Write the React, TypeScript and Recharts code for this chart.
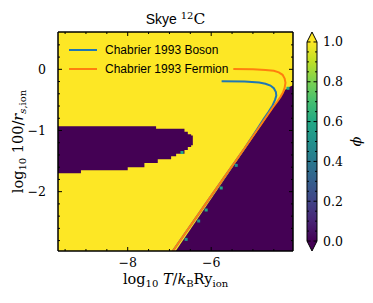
import React from "react";
import { ComposedChart, Area, Line, Scatter, Bar, XAxis, YAxis, Legend, ReferenceArea } from "recharts";

// Skye 12C phase map: phi = 1 everywhere except the two phi = 0 (purple) regions

const xMin = -9.67;
const xMax = -4.04;
const yMin = -2.97;
const yMax = 0.61;

// left purple island, stepped edges
const islandX = [-9.67, -9.12, -8.0, -7.6, -7.32, -7.28, -6.96, -6.84, -6.64, -6.56, -6.48, -6.44];
const islandTop = [-0.93, -0.93, -0.93, -0.93, -0.97, -0.97, -0.97, -0.97, -1.02, -1.06, -1.08, -1.08];
const islandBottom = [-1.7, -1.65, -1.6, -1.53, -1.53, -1.47, -1.42, -1.38, -1.32, -1.27, -1.24, -1.24];

// lower right purple wedge
const wedgeX = [-6.85, -4.22, -4.13, -4.04];
const wedgeTop = [-2.97, -0.33, -0.29, -0.26];

// cells with intermediate phi on the boundaries
const mixedX = [-6.7, -4.16, -5.4, -5.76, -6.12, -6.3, -6.6];
const mixedY = [-1.36, -0.31, -1.57, -1.94, -2.3, -2.48, -2.78];
const mixedPhi = [0.6, 0.6, 0.5, 0.6, 0.6, 0.5, 0.5];

// Chabrier 1993 melting curves
const bosonT = [-5.75, -5.2, -4.85, -4.7, -4.58, -4.5, -4.45, -4.44, -4.47, -4.53, -4.62, -4.74, -4.9, -5.2, -6.0, -6.92];
const bosonR = [-0.195, -0.2, -0.215, -0.235, -0.265, -0.31, -0.37, -0.43, -0.5, -0.59, -0.69, -0.81, -0.98, -1.29, -2.07, -2.97];
const fermionT = [-5.47, -5.0, -4.7, -4.5, -4.38, -4.29, -4.24, -4.22, -4.24, -4.28, -4.34, -4.42, -4.52, -5.2, -6.0, -6.92];
const fermionR = [0.005, 0.0, -0.01, -0.025, -0.05, -0.09, -0.15, -0.22, -0.3, -0.38, -0.45, -0.53, -0.62, -1.29, -2.07, -2.97];

const xMajorTicks = [-8, -6];
const xMinorTicks = [-9.5, -9, -8.5, -7.5, -7, -6.5, -5.5, -5, -4.5];
const yMajorTicks = [-2, -1, 0];
const yMinorTicks = [-2.8, -2.6, -2.4, -2.2, -1.8, -1.6, -1.4, -1.2, -0.8, -0.6, -0.4, -0.2, 0.2, 0.4];
const cbMajorTicks = [0, 0.2, 0.4, 0.6, 0.8, 1.0];
const cbMinorTicks = [0.05, 0.1, 0.15, 0.25, 0.3, 0.35, 0.45, 0.5, 0.55, 0.65, 0.7, 0.75, 0.85, 0.9, 0.95];

const viridis = ["#440154", "#482475", "#414487", "#355f8d", "#2a788e", "#21918c", "#22a884", "#44bf70", "#7ad151", "#bddf26", "#fde725"];
const phiColor = (phi: number) => viridis[Math.round(phi * 10)];

const fieldData = [
  { x: xMin, v: [yMin, yMax] },
  { x: xMax, v: [yMin, yMax] },
];
const islandData = islandX.map((x, i) => ({ x, v: [islandBottom[i], islandTop[i]] }));
const wedgeData = wedgeX.map((x, i) => ({ x, v: [yMin, wedgeTop[i]] }));
const mixedData = mixedX.map((x, i) => ({ x, y: mixedY[i], phi: mixedPhi[i] }));
const bosonData = bosonT.map((x, i) => ({ x, y: bosonR[i] }));
const fermionData = fermionT.map((x, i) => ({ x, y: fermionR[i] }));
const colorbarData = [{ name: "phi", range: [0, 1] }];

const SERIF = "DejaVu Serif";
const minus = (v: number) => (v < 0 ? "\u2212" + Math.abs(v) : String(v));
const xTicks = [...xMinorTicks, ...xMajorTicks].sort((a, b) => a - b);
const yTicks = [...yMinorTicks, ...yMajorTicks].sort((a, b) => a - b);

const BottomTick = (props: any) => {
  const { x, y, payload } = props;
  const major = xMajorTicks.includes(payload.value);
  return (
    <g>
      <line x1={x} x2={x} y1={y} y2={y - (major ? 4 : 2)} stroke="#000" />
      {major && (
        <text x={x} y={y + 16} textAnchor="middle" fontFamily={SERIF} fontSize={12.5} fill="#000">
          {minus(payload.value)}
        </text>
      )}
    </g>
  );
};

const TopTick = (props: any) => {
  const { x, y, payload } = props;
  const major = xMajorTicks.includes(payload.value);
  return <line x1={x} x2={x} y1={y} y2={y + (major ? 4 : 2)} stroke="#000" />;
};

const LeftTick = (props: any) => {
  const { x, y, payload } = props;
  const major = yMajorTicks.includes(payload.value);
  return (
    <g>
      <line x1={x} x2={x + (major ? 4 : 2)} y1={y} y2={y} stroke="#000" />
      {major && (
        <text x={x - 12} y={y + 4.5} textAnchor="end" fontFamily={SERIF} fontSize={12.5} fill="#000">
          {minus(payload.value)}
        </text>
      )}
    </g>
  );
};

const RightTick = (props: any) => {
  const { x, y, payload } = props;
  const major = yMajorTicks.includes(payload.value);
  return <line x1={x} x2={x - (major ? 4 : 2)} y1={y} y2={y} stroke="#000" />;
};

const CbTick = (props: any) => {
  const { x, y, payload } = props;
  return (
    <text x={x + 6} y={y + 4.5} fontFamily={SERIF} fontSize={12.5} fill="#000">
      {payload.value.toFixed(1)}
    </text>
  );
};

const TitleLabel = (props: any) => {
  const { viewBox } = props;
  const cx = viewBox.x + viewBox.width / 2;
  return (
    <text x={cx} y={viewBox.y - 7} textAnchor="middle" fill="#000">
      <tspan fontFamily="Liberation Sans" fontSize={14}>Skye </tspan>
      <tspan fontFamily={SERIF} fontSize={10} dy={-5.5}>12</tspan>
      <tspan fontFamily={SERIF} fontSize={15.5} dy={5.5}>C</tspan>
    </text>
  );
};

const XLabel = (props: any) => {
  const { viewBox } = props;
  const cx = viewBox.x + viewBox.width / 2;
  return (
    <text x={cx} y={viewBox.y + 33} textAnchor="middle" fontFamily={SERIF} fontSize={14.5} fill="#000">
      log
      <tspan fontSize={10} dy={3}>10</tspan>
      <tspan dy={-3}> </tspan>
      <tspan fontStyle="italic">T</tspan>/<tspan fontStyle="italic">k</tspan>
      <tspan fontSize={10} dy={3}>B</tspan>
      <tspan dy={-3}>Ry</tspan>
      <tspan fontSize={10} dy={3}>ion</tspan>
    </text>
  );
};

const YLabel = (props: any) => {
  const { viewBox } = props;
  const x = viewBox.x + 5;
  const cy = viewBox.y + viewBox.height / 2;
  return (
    <text x={x} y={cy} transform={`rotate(-90, ${x}, ${cy})`} textAnchor="middle" fontFamily={SERIF} fontSize={14.5} fill="#000">
      log
      <tspan fontSize={10} dy={3}>10</tspan>
      <tspan dy={-3}> 100/</tspan>
      <tspan fontStyle="italic">r</tspan>
      <tspan fontSize={10} dy={3} fontStyle="italic">s</tspan>
      <tspan fontSize={10}>,ion</tspan>
    </text>
  );
};

const PhiLabel = (props: any) => {
  const { viewBox } = props;
  const x = viewBox.x + 44;
  const cy = viewBox.y + viewBox.height / 2;
  return (
    <text x={x} y={cy} transform={`rotate(-90, ${x}, ${cy})`} textAnchor="middle" fontFamily={SERIF} fontStyle="italic" fontSize={14.5} fill="#000">
      {"\u03d5"}
    </text>
  );
};

const MixedCell = (props: any) => {
  const { cx, cy, payload } = props;
  return <rect x={cx - 1.5} y={cy - 1.5} width={3} height={3} fill={phiColor(payload.phi)} />;
};

// gradient bar with both extensions; ticks placed along the bar's own [0, 1] span
const ColorbarShape = (props: any) => {
  const { x, y, width, height } = props;
  const ext = height * 0.05;
  const cx = x + width / 2;
  const right = x + width;
  const bottom = y + height;
  const outline = `${x},${y} ${cx},${y - ext} ${right},${y} ${right},${bottom} ${cx},${bottom + ext} ${x},${bottom}`;
  const ticks = [
    ...cbMajorTicks.map((t) => ({ t, len: 3.5 })),
    ...cbMinorTicks.map((t) => ({ t, len: 2 })),
  ];
  return (
    <g>
      <defs>
        <linearGradient id="viridisBar" x1="0" y1="1" x2="0" y2="0">
          {viridis.map((c, i) => (
            <stop key={i} offset={i / (viridis.length - 1)} stopColor={c} />
          ))}
        </linearGradient>
      </defs>
      <rect x={x} y={y} width={width} height={height} fill="url(#viridisBar)" />
      <polygon points={`${x},${y} ${cx},${y - ext} ${right},${y}`} fill={viridis[viridis.length - 1]} />
      <polygon points={`${x},${bottom} ${cx},${bottom + ext} ${right},${bottom}`} fill={viridis[0]} />
      {ticks.map(({ t, len }) => {
        const ty = y + height * (1 - t);
        return (
          <g key={t}>
            <line x1={x} x2={x + len} y1={ty} y2={ty} stroke="#000" />
            <line x1={right} x2={right - len} y1={ty} y2={ty} stroke="#000" />
          </g>
        );
      })}
      <polygon points={outline} fill="none" stroke="#000" strokeWidth={1} />
    </g>
  );
};

const LegendContent = (props: any) => {
  const items = (props.payload || []).filter((p: any) => p.type === "line");
  return (
    <div style={{ fontFamily: "Liberation Sans", fontSize: 12, color: "#000" }}>
      {items.map((item: any) => (
        <div key={item.value} style={{ display: "flex", alignItems: "center", height: 19 }}>
          <svg width={28} height={4} style={{ display: "block" }}>
            <line x1={0} x2={28} y1={2} y2={2} stroke={item.color} strokeWidth={2} />
          </svg>
          <span style={{ marginLeft: 8, lineHeight: "14px", whiteSpace: "nowrap" }}>{item.value}</span>
        </div>
      ))}
    </div>
  );
};

const layer: React.CSSProperties = { position: "absolute", left: 0, top: 0 };

const App = () => {
  return (
    <div style={{ position: "absolute", left: 0, top: 0, width: 373, height: 303, background: "#fff" }}>
      {/* phase map and melting curves */}
      <div style={layer}>
        <ComposedChart width={373} height={303} margin={{ top: 32, right: 80, bottom: 52, left: 58 }}>
          <XAxis type="number" dataKey="x" domain={[xMin, xMax]} hide allowDataOverflow />
          <YAxis type="number" domain={[yMin, yMax]} hide allowDataOverflow />
          <Area data={fieldData} dataKey="v" type="linear" stroke="none" fill="#fde725" fillOpacity={1} dot={false} activeDot={false} legendType="none" isAnimationActive={false} />
          <Area data={islandData} dataKey="v" type="stepAfter" stroke="none" fill="#440154" fillOpacity={1} dot={false} activeDot={false} legendType="none" isAnimationActive={false} />
          <Area data={wedgeData} dataKey="v" type="linear" stroke="none" fill="#440154" fillOpacity={1} dot={false} activeDot={false} legendType="none" isAnimationActive={false} />
          <Scatter data={mixedData} dataKey="y" shape={<MixedCell />} legendType="none" isAnimationActive={false} />
          <Line data={bosonData} dataKey="y" name="Chabrier 1993 Boson" stroke="#1f77b4" strokeWidth={2} dot={false} activeDot={false} isAnimationActive={false} />
          <Line data={fermionData} dataKey="y" name="Chabrier 1993 Fermion" stroke="#ff7f0e" strokeWidth={2} dot={false} activeDot={false} isAnimationActive={false} />
          <Legend layout="vertical" align="center" verticalAlign="middle" content={<LegendContent />} wrapperStyle={{ left: 69, top: 40.5, width: "auto" }} />
        </ComposedChart>
      </div>
      {/* frame, inward ticks, labels and title drawn on top */}
      <div style={layer}>
        <ComposedChart width={373} height={303} margin={{ top: 31, right: 79, bottom: 22, left: 18 }}>
          <XAxis
            type="number"
            dataKey="x"
            domain={[xMin, xMax]}
            ticks={xTicks}
            interval={0}
            tickSize={0}
            tickMargin={0}
            tickLine={false}
            tick={<BottomTick />}
            axisLine={{ stroke: "#000" }}
            height={30}
            allowDataOverflow
            label={<XLabel />}
          />
          <XAxis
            xAxisId="top"
            orientation="top"
            type="number"
            dataKey="x"
            domain={[xMin, xMax]}
            ticks={xTicks}
            interval={0}
            tickSize={0}
            tickMargin={0}
            tickLine={false}
            tick={<TopTick />}
            axisLine={{ stroke: "#000" }}
            height={1}
            allowDataOverflow
            label={<TitleLabel />}
          />
          <YAxis
            type="number"
            domain={[yMin, yMax]}
            ticks={yTicks}
            interval={0}
            tickSize={0}
            tickMargin={0}
            tickLine={false}
            tick={<LeftTick />}
            axisLine={{ stroke: "#000" }}
            width={40}
            allowDataOverflow
            label={<YLabel />}
          />
          <YAxis
            yAxisId="right"
            orientation="right"
            type="number"
            domain={[yMin, yMax]}
            ticks={yTicks}
            interval={0}
            tickSize={0}
            tickMargin={0}
            tickLine={false}
            tick={<RightTick />}
            axisLine={{ stroke: "#000" }}
            width={1}
            allowDataOverflow
          />
          <ReferenceArea x1={xMin} x2={xMax} y1={yMin} y2={yMax} fill="none" stroke="#000" strokeWidth={1} ifOverflow="visible" />
          <Line data={fermionData} dataKey="y" stroke="none" dot={false} activeDot={false} legendType="none" isAnimationActive={false} />
          <Line data={fermionData} dataKey="y" xAxisId="top" yAxisId="right" stroke="none" dot={false} activeDot={false} legendType="none" isAnimationActive={false} />
        </ComposedChart>
      </div>
      {/* colorbar */}
      <div style={layer}>
        <ComposedChart width={373} height={303} data={colorbarData} margin={{ top: 32, right: 16, bottom: 52, left: 307 }} barCategoryGap={0}>
          <XAxis dataKey="name" hide />
          <YAxis
            orientation="right"
            type="number"
            domain={[-0.05, 1.05]}
            ticks={cbMajorTicks}
            interval={0}
            tickSize={0}
            tickMargin={0}
            tickLine={false}
            axisLine={false}
            tick={<CbTick />}
            width={40}
            allowDataOverflow
            label={<PhiLabel />}
          />
          <Bar dataKey="range" shape={<ColorbarShape />} isAnimationActive={false} />
        </ComposedChart>
      </div>
    </div>
  );
};

export default App;
